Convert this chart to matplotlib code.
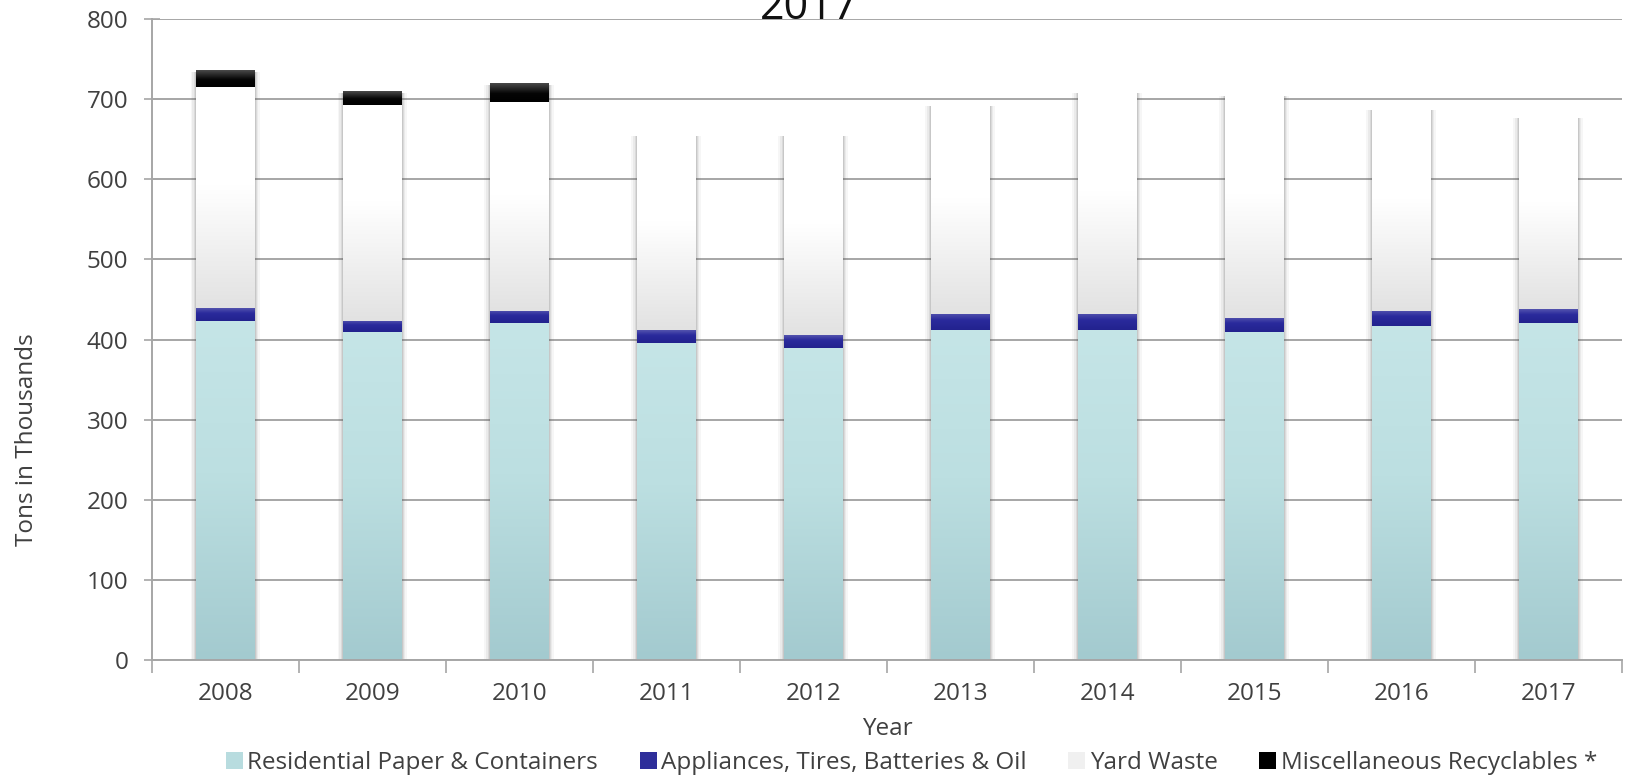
import matplotlib.pyplot as plt
import numpy as np
from matplotlib.colors import LinearSegmentedColormap
from matplotlib.patches import Patch

# Donnees (milliers de tonnes)
years = ['2008', '2009', '2010', '2011', '2012', '2013', '2014', '2015', '2016', '2017']
residential = [423, 409, 420, 396, 390, 412, 412, 409, 417, 421]
appliances = [16, 14, 15.5, 16, 16, 20, 20, 17.5, 19, 17]
yard = [276, 270, 260.5, 244, 250, 261, 278, 280, 253, 241]
misc = [21, 17, 23.5, 0, 0, 0, 0, 0, 0, 0]
labels = ['Residential Paper & Containers', 'Appliances, Tires, Batteries & Oil',
          'Yard Waste', 'Miscellaneous Recyclables *']

plt.rcParams['font.family'] = ['Open Sans', 'DejaVu Sans']

# degrades (bas -> haut)
cmaps = [
    LinearSegmentedColormap.from_list('res', [(0, '#a3cacf'), (0.55, '#bcdfe1'), (1, '#c5e5e7')]),
    LinearSegmentedColormap.from_list('app', [(0, '#22228e'), (0.6, '#2a2a9c'), (1, '#5454ae')]),
    LinearSegmentedColormap.from_list('yard', [(0, '#e2e2e2'), (0.55, '#ffffff'), (1, '#ffffff')]),
    LinearSegmentedColormap.from_list('misc', [(0, '#000000'), (0.45, '#050505'), (1, '#4a4a4a')]),
]
flat = ['#b5dadd', '#2e2e9a', '#eeeeee', '#111111']

fig = plt.figure(figsize=(16.25, 7.77), dpi=100)
ax = fig.add_axes([0.0935, 0.1506, 0.9045, 0.8249])

x = np.arange(len(years))
w = 0.40
grad = np.linspace(0, 1, 256).reshape(-1, 1)

# ombre des barres
totals = np.array(residential) + np.array(appliances) + np.array(yard) + np.array(misc)
for k, a in [(0.075, 0.05), (0.05, 0.07), (0.03, 0.10), (0.015, 0.14)]:
    ax.bar(x, totals + 1, width=w + k, bottom=-3, color='#555555', alpha=a, lw=0, zorder=1.5)

bottom = np.zeros(len(years))
for serie, cm, c in zip([residential, appliances, yard, misc], cmaps, flat):
    bars = ax.bar(x, serie, width=w, bottom=bottom, color=c, lw=0, zorder=2)
    for b in bars:
        if b.get_height() <= 0:
            continue
        ax.imshow(grad, cmap=cm, origin='lower', aspect='auto', zorder=2.1,
                  extent=(b.get_x(), b.get_x() + b.get_width(), b.get_y(), b.get_y() + b.get_height()))
    bottom = bottom + np.array(serie)

ax.set_xlim(-0.5, len(years) - 0.5)
ax.set_ylim(0, 800)
ax.set_yticks(np.arange(0, 801, 100))
ax.set_xticks(x)
ax.set_xticklabels(years)
ax.set_xticks(np.arange(-0.5, len(years)), minor=True)
ax.grid(axis='y', color='#a6a6a6', lw=1.4, zorder=0)
ax.set_axisbelow(True)

for s in ['top', 'right']:
    ax.spines[s].set_visible(False)
for s in ['left', 'bottom']:
    ax.spines[s].set_color('#a6a6a6')
    ax.spines[s].set_linewidth(1.4)

tc = '#404040'
fs = 17.5
ax.tick_params(axis='x', which='major', length=0, pad=16, labelsize=fs, labelcolor=tc)
ax.tick_params(axis='x', which='minor', length=9, color='#a6a6a6', width=1.2, direction='out')
ax.tick_params(axis='y', length=12, direction='inout', color='#a6a6a6', width=1.2,
               pad=11, labelsize=fs, labelcolor=tc)

ax.set_xlabel('Year', fontsize=fs, color=tc, labelpad=8)
fig.text(0.0165, 1 - 440 / 777, 'Tons in Thousands', rotation=90, ha='center', va='center',
         fontsize=fs, color=tc)
fig.text(0.498, 1 - 19 / 777, '2017', ha='center', va='baseline', fontsize=31, color='#111111')

handles = [Patch(facecolor=c, edgecolor='none') for c in ['#b8dcdf', '#2e2e9a', '#f0f0f0', '#000000']]
fig.legend(handles, labels, loc='center', bbox_to_anchor=(0.561, 0.018), ncol=4, frameon=False,
           fontsize=fs, handlelength=0.7, handleheight=0.7, handletextpad=0.2,
           columnspacing=1.7, labelcolor=tc)

plt.savefig('out.png', dpi=100)
